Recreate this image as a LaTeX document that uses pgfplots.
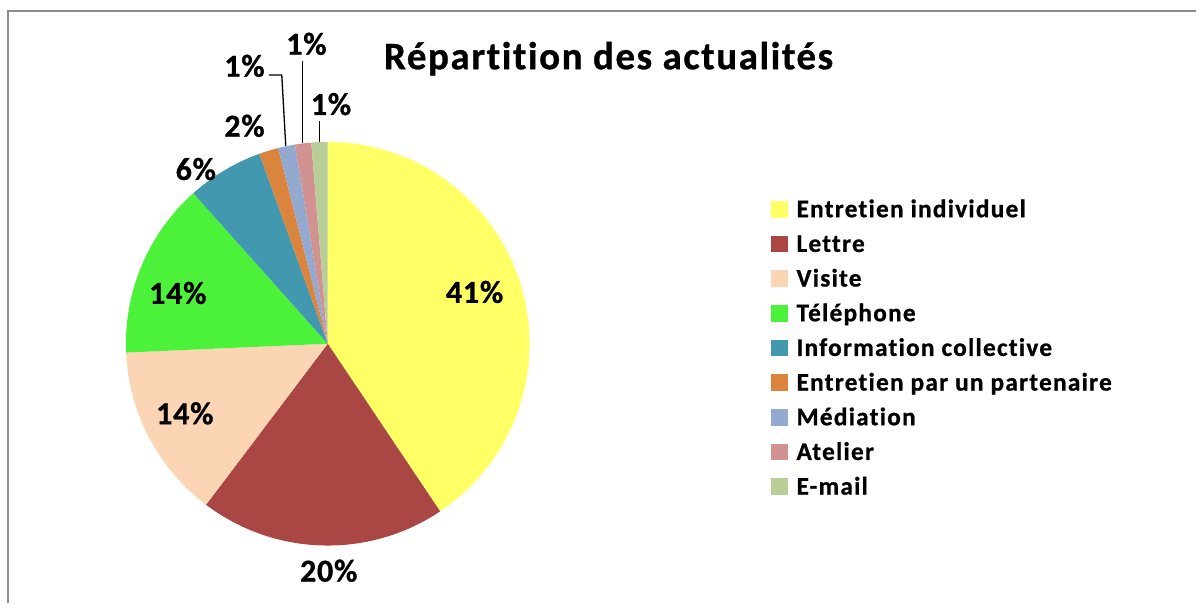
\documentclass[border=0pt]{standalone}
\usepackage{fontspec}
\setmainfont{Carlito}[Ligatures=NoCommon]
\usepackage{pgfplots}
\usepackage{pgfplotstable}
\pgfplotsset{compat=1.18}
\definecolor{c0}{HTML}{FFFF66}
\definecolor{c1}{HTML}{AA4643}
\definecolor{c2}{HTML}{FCD5B5}
\definecolor{c3}{HTML}{4CF23A}
\definecolor{c4}{HTML}{4198AF}
\definecolor{c5}{HTML}{DB843D}
\definecolor{c6}{HTML}{93A9CF}
\definecolor{c7}{HTML}{D19392}
\definecolor{c8}{HTML}{B9CD96}
\definecolor{frame}{HTML}{8C8C8C}
\newcommand\legfont{\fontsize{25.3}{28}\selectfont\bfseries\addfontfeatures{LetterSpace=5,FakeBold=0.8}}
\newcommand\labfont{\fontsize{32}{34}\selectfont\bfseries\addfontfeatures{LetterSpace=2.5,FakeBold=0.8}}
\newcommand\titfont{\fontsize{39}{42}\selectfont\bfseries\addfontfeatures{LetterSpace=4,FakeBold=0.8}}
\pgfplotstableread[col sep=comma]{
name,value,lx,ly
Entretien individuel,40.6,475,293
Lettre,19.7,329,572
Visite,14.0,185,414.5
Téléphone,14.1,178,294
Information collective,6.1,196,170
Entretien par un partenaire,1.55,244.7,126.7
Médiation,1.35,244.7,66.7
Atelier,1.3,306.7,44.7
E-mail,1.3,331.3,105
}\piedata
\begin{document}
\begin{tikzpicture}
\begin{axis}[x=1pt,y=1pt,xmin=0,xmax=1197,ymin=0,ymax=604,
  hide axis,clip=false,scale only axis]
\path (axis cs:0,0) rectangle (axis cs:1197,604);
\draw[frame,line width=2pt] (axis cs:8.5,0) -- (axis cs:8.5,592.5) -- (axis cs:1197,592.5);
\xdef\cum{0}
\pgfplotsinvokeforeach{0,...,8}{
  \pgfplotstablegetelem{#1}{value}\of\piedata
  \pgfmathsetmacro\aS{90-3.6*\cum}
  \pgfmathsetmacro\newcum{\cum+\pgfplotsretval}
  \pgfmathsetmacro\aE{90-3.6*\newcum}
  \xdef\cum{\newcum}
  \edef\tmp{\noexpand\fill[c#1] (axis cs:328,260) -- ([shift={(\aS:202pt)}]axis cs:328,260) arc[start angle=\aS, end angle=\aE, radius=202pt] -- cycle;}
  \tmp
  % legend
  \pgfplotstablegetelem{#1}{name}\of\piedata
  \let\nm\pgfplotsretval
  \pgfmathsetmacro\ly{604-(209.5+34.7*#1)}
  \pgfmathsetmacro\lyb{\ly-7.9}
  \edef\tmp{\noexpand\fill[c#1] (axis cs:772,\ly-8.3) rectangle (axis cs:789,\ly+8.3);
    \noexpand\node[anchor=base west,inner sep=0pt,font=\noexpand\legfont] at (axis cs:797,\lyb) {\nm};}
  \tmp
  % data label
  \pgfplotstablegetelem{#1}{value}\of\piedata
  \pgfmathsetmacro\pct{round(\pgfplotsretval)}
  \pgfmathtruncatemacro\pcti{\pct}
  \pgfplotstablegetelem{#1}{lx}\of\piedata \let\px\pgfplotsretval
  \pgfplotstablegetelem{#1}{ly}\of\piedata \let\py\pgfplotsretval
  \edef\tmp{\noexpand\node[anchor=center,inner sep=0pt,text height=20.2pt,text depth=0pt,font=\noexpand\labfont] at (axis cs:\px,604-\py) {\pcti\noexpand\%};}
  \tmp
}
% leader lines
\draw[black,line width=1.3pt] (axis cs:269,529) -- (axis cs:282,529) -- (axis cs:286,458);
\draw[black,line width=1.3pt] (axis cs:302.7,543) -- (axis cs:302.7,461);
\draw[black,line width=1.3pt] (axis cs:320,483) -- (axis cs:320,462);
\node[anchor=base,inner sep=0pt,font=\titfont] at (axis cs:609,604-69.3) {Répartition des actualités};
\end{axis}
\end{tikzpicture}
\end{document}
